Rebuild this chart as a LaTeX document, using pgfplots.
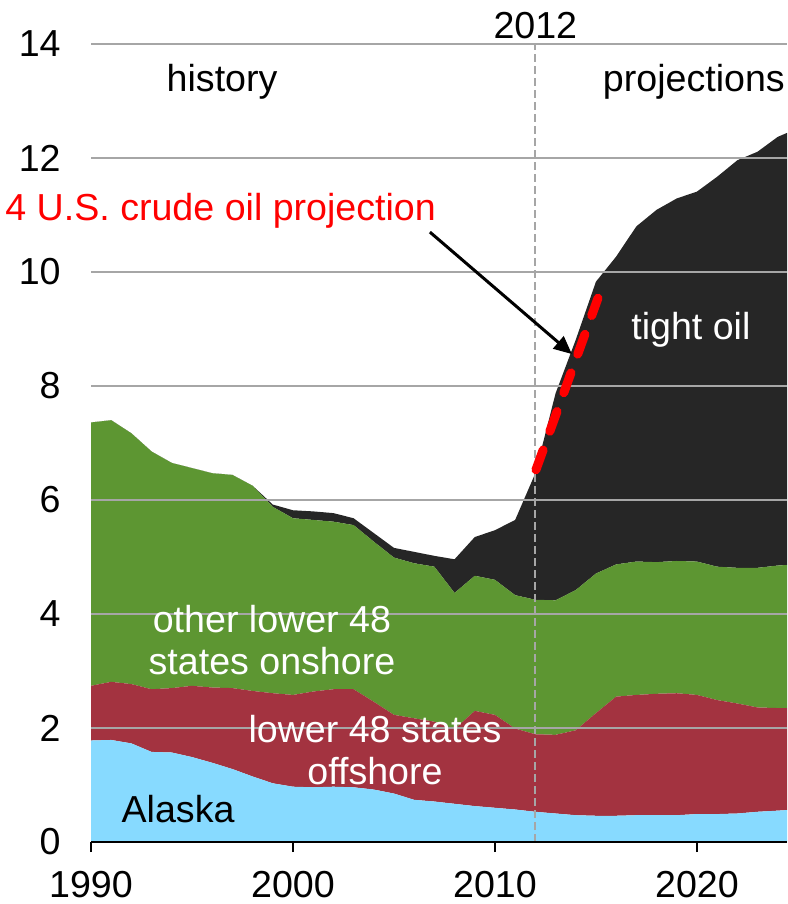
\documentclass[border=0pt]{standalone}
\usepackage{pgfplots}
\usepackage{pgfplotstable}
\pgfplotsset{compat=1.18}
\usetikzlibrary{arrows.meta}
\usepackage{fontspec}
\setmainfont{Liberation Sans}

\definecolor{alaska}{HTML}{87DAFF}
\definecolor{offshore}{HTML}{A33340}
\definecolor{onshore}{HTML}{5D9632}
\definecolor{tight}{HTML}{262626}
\definecolor{gridgray}{HTML}{A6A6A6}

% million barrels per day, by source (layer thickness)
\pgfplotstableread{
year    alaska offshore onshore tight
1990    1.78   0.96     4.62    0.00
1991    1.79   1.02     4.59    0.00
1992    1.73   1.04     4.40    0.00
1993    1.58   1.10     4.17    0.00
1994    1.57   1.13     3.95    0.00
1995    1.49   1.25     3.82    0.00
1996    1.39   1.32     3.76    0.00
1997    1.28   1.42     3.74    0.00
1998    1.15   1.50     3.60    0.00
1999    1.03   1.58     3.27    0.04
2000    0.97   1.61     3.10    0.14
2001    0.96   1.68     3.01    0.15
2002    0.97   1.71     2.94    0.15
2003    0.96   1.72     2.88    0.12
2004    0.92   1.54     2.81    0.15
2005    0.85   1.38     2.76    0.17
2006    0.74   1.43     2.72    0.20
2007    0.71   1.40     2.72    0.19
2008    0.67   1.31     2.39    0.59
2009    0.63   1.67     2.37    0.68
2010    0.60   1.63     2.37    0.87
2011    0.57   1.42     2.34    1.32
2012    0.53   1.36     2.36    2.22
2013    0.50   1.38     2.36    3.63
2014    0.47   1.49     2.46    4.39
2015    0.46   1.80     2.45    5.12
2016    0.46   2.09     2.32    5.40
2017    0.47   2.11     2.34    5.88
2018    0.47   2.13     2.31    6.18
2019    0.47   2.14     2.32    6.36
2020    0.49   2.09     2.34    6.49
2021    0.49   2.00     2.34    6.84
2022    0.50   1.93     2.38    7.15
2023    0.53   1.83     2.45    7.30
2024    0.55   1.80     2.50    7.52
2024.46 0.56   1.79     2.51    7.58
}\prodtable

\pgfplotsset{
    frame/.style={
        scale only axis,
        width=348pt, height=399pt,
        xmin=1990, xmax=2024.46,
        ymin=0, ymax=14,
        clip=false,
    }
}

\begin{document}
\begin{tikzpicture}[font=\fontsize{18.8}{22}\selectfont]
% stacked areas
\begin{axis}[
    frame,
    axis x line*=bottom,
    axis y line*=left,
    y axis line style={draw=none},
    x axis line style={black, line width=1pt},
    xtick={1990,2000,2010,2020},
    ytick={0,2,...,14},
    tick align=outside,
    major tick length=5pt,
    xtick style={black, line width=1pt},
    ytick style={draw=none},
    ymajorgrids,
    grid style={gridgray, line width=0.75pt},
    /pgf/number format/1000 sep={},
    /pgf/number format/assume math mode=true,
    xticklabel style={inner sep=0pt, anchor=north, yshift=-9.5pt},
    yticklabel style={inner sep=0pt, anchor=east, xshift=-10pt},
    stack plots=y,
    area style,
]
\addplot[fill=alaska, draw=none] table[x=year, y=alaska] {\prodtable} \closedcycle;
\addplot[fill=offshore, draw=none] table[x=year, y=offshore] {\prodtable} \closedcycle;
\addplot[fill=onshore, draw=none] table[x=year, y=onshore] {\prodtable} \closedcycle;
\addplot[fill=tight, draw=none] table[x=year, y=tight] {\prodtable} \closedcycle;
\coordinate (ll) at (rel axis cs:0,0);
\coordinate (ur) at (rel axis cs:1,1);
\end{axis}

% overlay: projection line and annotations
\begin{axis}[frame, hide axis]
\draw[gridgray, line width=1pt, dash pattern=on 4pt off 2pt]
    (axis cs:2012,0) -- (axis cs:2012,14);
\draw[black, line width=1pt] (rel axis cs:0,0) -- (rel axis cs:1,0);

% 2014 projection
\addplot[red, line width=4.5pt, line cap=round, dash pattern=on 10.5pt off 10pt]
    coordinates {(2012.03,6.53) (2015.1,9.54)};

\node[anchor=base] at (axis cs:2012,14.1) {2012};
\node[anchor=base] at (axis cs:1996.49,13.16) {history};
\node[anchor=base] at (axis cs:2019.85,13.16) {projections};
\node[anchor=base, white] at (axis cs:2019.7,8.81) {tight oil};
\node[anchor=base, white] at (axis cs:1998.96,3.67) {other lower 48};
\node[anchor=base, white] at (axis cs:1998.96,2.93) {states onshore};
\node[anchor=base, white] at (axis cs:2004.06,1.75) {lower 48 states};
\node[anchor=base, white] at (axis cs:2004.06,1.00) {offshore};
\node[anchor=base] at (axis cs:1994.31,0.35) {Alaska};
\node[anchor=base west, red, inner sep=0pt] at (axis cs:1985.74,10.91) {4 U.S. crude oil projection};
\draw[-{Triangle[length=9pt,width=8pt]}, line width=1.5pt]
    (axis cs:2006.78,10.70) -- (axis cs:2013.81,8.56);
\end{axis}
\pgfresetboundingbox
\path[use as bounding box] ([shift={(-45.5pt,-31pt)}]ll) rectangle ([shift={(0pt,22pt)}]ur);
\end{tikzpicture}
\end{document}
